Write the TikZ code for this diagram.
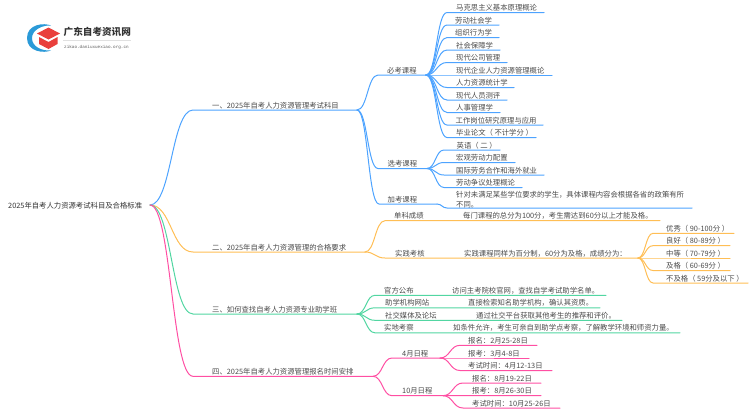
\documentclass[tikz,border=0pt]{standalone}
\usepackage{fontspec}
\setmainfont{Noto Sans CJK SC}
\newfontfamily\monofam{Liberation Mono}
\usetikzlibrary{calc}
\definecolor{cblue}{HTML}{4DA3FF}
\definecolor{corange}{HTML}{FFBE55}
\definecolor{cgreen}{HTML}{52D6A2}
\definecolor{cpink}{HTML}{FF4FA3}
\definecolor{ctext}{HTML}{4A4A4A}
\definecolor{logored}{HTML}{E9403C}
\definecolor{logoblue}{HTML}{2B9AD8}
\tikzset{
  x=1pt,y=-1pt,
  lab/.style={inner sep=0pt,anchor=base west,text=ctext,font=\fontsize{7.35}{10}\selectfont},
  conn/.style={line width=1pt,line cap=round,line join=round},
}
% name, x start, x end, line y, text x, text
\newcommand{\mitem}[6]{%
  \coordinate (#1-a) at (#2,#4);
  \coordinate (#1-b) at (#3,#4);
  \node[lab] (#1) at (#5,{#4-2}) {#6};
}
% colour, parent, child
\newcommand{\mlink}[3]{%
  \draw[conn,#1] let \p1=(#2-b),\p2=(#3-a) in
    (\p1) .. controls ({(\x1+\x2)/2},\y1) and ({(\x1+\x2)/2},\y2) .. (\p2) -- (#3-b);
}
\newcommand{\pgap}{\hspace{1.6pt}}
\begin{document}
\begin{tikzpicture}
\useasboundingbox (0,0) rectangle (750,410);
% logo
\fill[logoblue,even odd rule] (51,25.5) .. controls (44,22.5) and (27,24) .. (27,38)
  .. controls (27,52) and (44,53.5) .. (51,50.5) .. controls (42,51) and (32,47) .. (32,38)
  .. controls (32,30) and (42,25) .. (51,25.5) -- cycle;
\fill[logored] (37,33.5) -- (48.5,27.5) -- (60,33.5) -- (48.5,39.5) -- cycle;
\fill[logored] (39,37) -- (48.5,42) -- (57.5,37) -- (57.5,44) -- (48.5,49) -- (39,44) -- cycle;
\node[inner sep=0pt,anchor=base west,text=black!80,font=\fontsize{9.6}{10}\selectfont\bfseries] (logotitle) at (63.5,35) {广东自考资讯网};
\draw[black!12,line width=.5pt] (63,40.5) -- (131,40.5);
\node[inner sep=0pt,anchor=base west,text=black!65,font=\monofam\fontsize{4.3}{5}\selectfont] (logourl) at (64,48) {zikao.daniuxuexiao.org.cn};
% root
\node[lab,text=black!80] (root) at (8,208.2) {2025年自考人力资源考试科目及合格标准};
\coordinate (root-b) at (150,205);
% branch 1
\mitem{b1}{193}{357}{110}{212}{一、2025年自考人力资源管理考试科目}
\mitem{k1}{378}{426}{75}{387}{必考课程}
\mitem{k2}{378}{427}{168.5}{387.5}{选考课程}
\mitem{k3}{379}{437}{204}{387.5}{加考课程}
\mitem{m1}{447}{544}{12.5}{456}{马克思主义基本原理概论}
\mitem{m2}{447}{499}{25}{455}{劳动社会学}
\mitem{m3}{447}{499}{37.5}{455}{组织行为学}
\mitem{m4}{447}{500}{50}{456}{社会保障学}
\mitem{m5}{447}{507}{62.5}{456}{现代公司管理}
\mitem{m6}{447}{552}{75}{456}{现代企业人力资源管理概论}
\mitem{m7}{447}{514}{87.5}{456}{人力资源统计学}
\mitem{m8}{447}{507}{100}{456}{现代人员测评}
\mitem{m9}{447}{500}{112.5}{456}{人事管理学}
\mitem{m10}{447}{543}{125}{455.5}{工作岗位研究原理与应用}
\mitem{m11}{447}{536}{137.5}{456}{毕业论文（\pgap 不计学分\pgap ）}
\mitem{x1}{444}{500}{150}{456.5}{英语（\pgap 二\pgap ）}
\mitem{x2}{444}{515}{162.5}{456}{宏观劳动力配置}
\mitem{x3}{444}{544}{175}{456}{国际劳务合作和海外就业}
\mitem{x4}{444}{522}{187.5}{456}{劳动争议处理概论}
\coordinate (j1-a) at (447,208);
\coordinate (j1-b) at (692,208);
\node[lab,align=left,anchor=north west] (j1) at (456,190.6) {针对未满足某些学位要求的学生，具体课程内容会根据各省的政策有所\\不同。};
\mlink{cblue}{root}{b1}
\foreach \k in {k1,k2,k3} {\mlink{cblue}{b1}{\k}}
\foreach \k in {m1,m2,m3,m4,m5,m6,m7,m8,m9,m10,m11} {\mlink{cblue}{k1}{\k}}
\foreach \k in {x1,x2,x3,x4} {\mlink{cblue}{k2}{\k}}
\mlink{cblue}{k3}{j1}
% branch 2
\mitem{b2}{193}{365}{252}{212}{二、2025年自考人力资源管理的合格要求}
\mitem{d1}{385}{660}{220.7}{394}{单科成绩}
\node[lab] (d1t) at (463,218.7) {每门课程的总分为100分，考生需达到60分以上才能及格。};
\mitem{d2}{385}{638}{258}{395}{实践考核}
\node[lab] (d2t) at (464,256) {实践课程同样为百分制，60分为及格，成绩分为：};
\mitem{g1}{653}{734}{233.3}{666}{优秀（\pgap 90-100分\pgap ）}
\mitem{g2}{653}{730}{245.7}{666}{良好（\pgap 80-89分\pgap ）}
\mitem{g3}{653}{730}{258}{666}{中等（\pgap 70-79分\pgap ）}
\mitem{g4}{653}{730}{270.5}{666}{及格（\pgap 60-69分\pgap ）}
\mitem{g5}{653}{748}{283}{666}{不及格（\pgap 59分及以下\pgap ）}
\mlink{corange}{root}{b2}
\foreach \k in {d1,d2} {\mlink{corange}{b2}{\k}}
\foreach \k in {g1,g2,g3,g4,g5} {\mlink{corange}{d2}{\k}}
% branch 3
\mitem{b3}{193}{357}{314}{212}{三、如何查找自考人力资源专业助学班}
\mitem{h1}{375}{606}{295.3}{384}{官方公布}
\node[lab] (h1t) at (452,293.3) {访问主考院校官网，查找自学考试助学名单。};
\mitem{h2}{375}{600}{307.8}{385}{助学机构网站}
\node[lab] (h2t) at (468,305.8) {直接检索知名助学机构，确认其资质。};
\mitem{h3}{375}{622}{320.3}{385}{社交媒体及论坛}
\node[lab] (h3t) at (476,318.3) {通过社交平台获取其他考生的推荐和评价。};
\mitem{h4}{375}{680}{332.8}{384}{实地考察}
\node[lab] (h4t) at (453,330.8) {如条件允许，考生可亲自到助学点考察，了解教学环境和师资力量。};
\mlink{cgreen}{root}{b3}
\foreach \k in {h1,h2,h3,h4} {\mlink{cgreen}{b3}{\k}}
% branch 4
\mitem{b4}{193}{373}{376.3}{212}{四、2025年自考人力资源管理报名时间安排}
\mitem{t1}{392}{440}{358}{402}{4月日程}
\mitem{t2}{392}{443}{395.7}{402}{10月日程}
\mitem{s1}{460}{537}{345.3}{468}{报名：2月25-28日}
\mitem{s2}{460}{529}{358}{468}{报考：3月4-8日}
\mitem{s3}{460}{552}{370.5}{468}{考试时间：4月12-13日}
\mitem{s4}{463}{541}{383}{472}{报名：8月19-22日}
\mitem{s5}{463}{541}{395.5}{472}{报考：8月26-30日}
\mitem{s6}{463}{560}{408}{472}{考试时间：10月25-26日}
\mlink{cpink}{root}{b4}
\foreach \k in {t1,t2} {\mlink{cpink}{b4}{\k}}
\foreach \k in {s1,s2,s3} {\mlink{cpink}{t1}{\k}}
\foreach \k in {s4,s5,s6} {\mlink{cpink}{t2}{\k}}
\end{tikzpicture}
\end{document}
